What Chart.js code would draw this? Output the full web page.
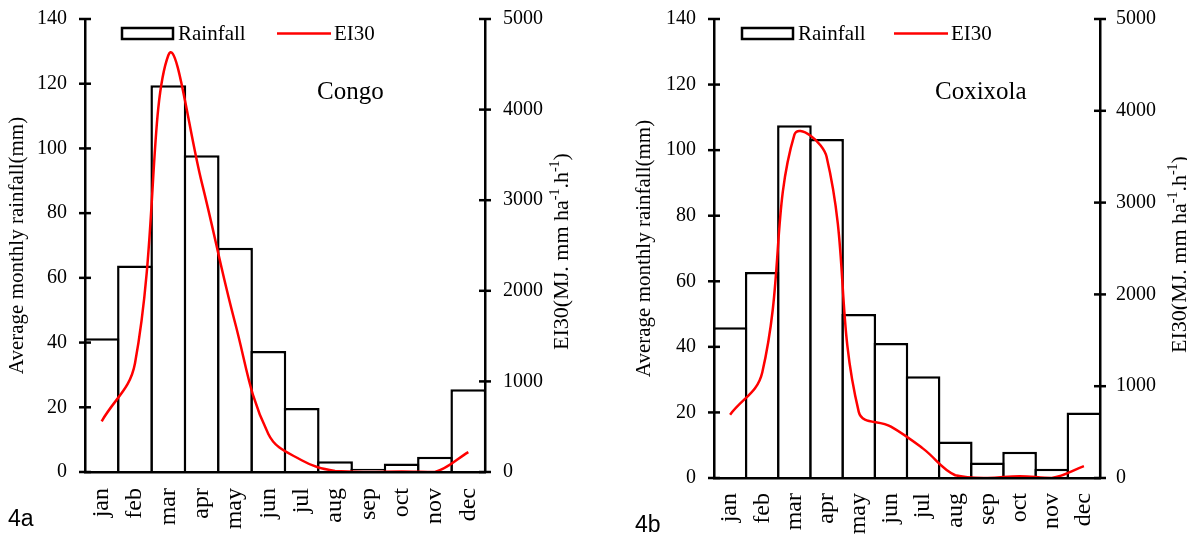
<!DOCTYPE html>
<html>
<head>
<meta charset="utf-8">
<script src="https://cdn.jsdelivr.net/npm/chart.js@4/dist/chart.umd.min.js"></script>
<style>
  body { margin: 0; background: #fff; width: 1187px; height: 538px; position: relative; overflow: hidden; }
  .panel { position: absolute; top: 0; height: 538px; }
  #p1 { left: 0; width: 600px; }
  #p2 { left: 600px; width: 587px; }
  .tag { position: absolute; font-family: 'Liberation Sans', Arial, sans-serif; font-size: 23px; line-height: 22px; color: #000; }
</style>
</head>
<body>
<div class="panel" id="p1"><canvas id="c1" width="600" height="538"></canvas></div>
<div class="panel" id="p2"><canvas id="c2" width="587" height="538"></canvas></div>
<div class="tag" style="left:8px;top:507px">4a</div>
<div class="tag" style="left:635px;top:513px">4b</div>
<script>
// ── data ────────────────────────────────────────────
const months = ['jan', 'feb', 'mar', 'apr', 'may', 'jun', 'jul', 'aug', 'sep', 'oct', 'nov', 'dec'];

const congoRain = [41.3, 63.8, 119.5, 97.9, 69.3, 37.4, 19.8, 3.3, 1.0, 2.6, 4.7, 25.6];
const congoEI30 = [560, 1200, 4600, 3200, 1650, 420, 130, 10, 0, 5, 0, 220];

const coxRain = [46.0, 62.8, 107.6, 103.4, 50.0, 41.2, 31.0, 11.1, 4.7, 8.0, 2.8, 20.0];
const coxEI30 = [690, 1150, 3740, 3500, 720, 560, 320, 30, 0, 20, 0, 130];

const rainAxis = { min: 0, max: 140, step: 20 };
const eiAxis = { min: 0, max: 5000, step: 1000 };

const seriesNames = ['Rainfall', 'EI30'];
const leftTitle = 'Average monthly rainfall(mm)';
// right title pieces: [text, superscript?]
const rightTitle = [['EI30(MJ. mm ha', false], ['-1', true], ['.h', false], ['-1', true], [')', false]];

// ── drawing ─────────────────────────────────────────
const SERIF = "'Liberation Serif', 'Times New Roman', serif";
Chart.defaults.font.family = SERIF;
Chart.defaults.color = '#000';

// crossing tick marks, in-plot legend, station name, right axis title
const decor = {
  id: 'decor',
  afterDraw(chart, args, o) {
    const { ctx, chartArea: a, scales } = chart;
    ctx.save();

    ctx.strokeStyle = '#000';
    ctx.lineWidth = 2.5;
    [['y', a.left], ['y1', a.right]].forEach(([id, x]) => {
      const s = scales[id];
      s.ticks.forEach(t => {
        const py = s.getPixelForValue(t.value);
        ctx.beginPath();
        ctx.moveTo(x - 6, py);
        ctx.lineTo(x + 6, py);
        ctx.stroke();
      });
    });

    // legend
    const ds = chart.data.datasets;
    const lx = a.left + o.legendX, ly = a.top + 14.5;
    ctx.font = '21px ' + SERIF;
    ctx.textBaseline = 'middle';
    ctx.textAlign = 'left';
    ctx.fillStyle = '#fff';
    ctx.fillRect(lx, ly - 5.5, 51, 11);
    ctx.lineWidth = 2.5;
    ctx.strokeStyle = ds[0].borderColor;
    ctx.strokeRect(lx, ly - 5.5, 51, 11);
    ctx.fillStyle = '#000';
    ctx.fillText(ds[0].label, lx + 56, ly + 1);
    const l2 = lx + o.legendGap;
    ctx.strokeStyle = ds[1].borderColor;
    ctx.lineWidth = 2.5;
    ctx.beginPath();
    ctx.moveTo(l2, ly);
    ctx.lineTo(l2 + 54, ly);
    ctx.stroke();
    ctx.fillText(ds[1].label, l2 + 57, ly + 1);

    // station
    ctx.font = '25px ' + SERIF;
    ctx.textBaseline = 'alphabetic';
    ctx.fillText(o.station, o.stationX, a.top + 80);

    // right axis title, reading bottom to top
    const big = '22px ' + SERIF, small = '14px ' + SERIF;
    let total = 0;
    rightTitle.forEach(([t, sup]) => { ctx.font = sup ? small : big; total += ctx.measureText(t).width; });
    ctx.translate(a.right + o.titleOffset, (a.top + a.bottom) / 2 + 6);
    ctx.rotate(-Math.PI / 2);
    let x = -total / 2;
    ctx.textBaseline = 'middle';
    rightTitle.forEach(([t, sup]) => {
      ctx.font = sup ? small : big;
      ctx.fillText(t, x, sup ? -7 : 0);
      x += ctx.measureText(t).width;
    });
    ctx.restore();
  }
};

function makePanel(id, rain, ei, p) {
  const ticksFont = { family: SERIF, size: 20 };
  const catW = (p.rightEdge - p.leftW) / months.length;
  return new Chart(document.getElementById(id), {
    data: {
      labels: months,
      datasets: [
        {
          type: 'bar', label: seriesNames[0], data: rain, yAxisID: 'y', order: 2,
          backgroundColor: '#fff', borderColor: '#000', borderWidth: 2.5,
          barPercentage: (catW + 2.5) / catW, categoryPercentage: 1
        },
        {
          type: 'line', label: seriesNames[1], data: ei, yAxisID: 'y1', order: 1,
          borderColor: '#ff0000', borderWidth: 2.5, pointRadius: 0, tension: 0.4, fill: false
        }
      ]
    },
    options: {
      responsive: false,
      animation: false,
      layout: { padding: { top: 19, left: 0, right: 0, bottom: 0 } },
      scales: {
        x: {
          grid: { display: false, drawTicks: true, tickLength: p.xPad },
          border: { color: '#000', width: 2.5, z: 1 },
          ticks: { color: '#000', font: { family: SERIF, size: 24 }, minRotation: 90, maxRotation: 90, padding: 0, autoSkip: false },
          afterFit(s) { s.height = p.xH; }
        },
        y: {
          position: 'left', min: rainAxis.min, max: rainAxis.max,
          grid: { display: false, drawTicks: true, tickLength: 18 },
          border: { color: '#000', width: 2.5, z: 1 },
          ticks: { stepSize: rainAxis.step, color: '#000', font: ticksFont, padding: 0, callback: v => String(v) },
          title: { display: true, text: leftTitle, color: '#000', font: { family: SERIF, size: 21 }, padding: { top: p.titlePad, bottom: 0 } },
          afterFit(s) { s.width = p.leftW; }
        },
        y1: {
          position: 'right', min: eiAxis.min, max: eiAxis.max,
          grid: { display: false, drawTicks: true, tickLength: p.rightPad },
          border: { color: '#000', width: 2.5, z: 1 },
          ticks: { stepSize: eiAxis.step, color: '#000', font: ticksFont, padding: 0, callback: v => String(v) },
          afterFit(s) { s.width = p.rightW; }
        }
      },
      plugins: {
        legend: { display: false },
        tooltip: { enabled: false },
        decor: p.decor
      }
    },
    plugins: [decor]
  });
}

makePanel('c1', congoRain, congoEI30, {
  leftW: 85, rightW: 115, rightEdge: 485, xH: 66, xPad: 16, titlePad: 5, rightPad: 18,
  decor: { legendX: 37, legendGap: 155, station: 'Congo', stationX: 317, titleOffset: 77 }
});
makePanel('c2', coxRain, coxEI30, {
  leftW: 114, rightW: 87, rightEdge: 500, xH: 60, xPad: 15, titlePad: 32, rightPad: 16,
  decor: { legendX: 28, legendGap: 152, station: 'Coxixola', stationX: 335, titleOffset: 80 }
});
</script>
</body>
</html>
